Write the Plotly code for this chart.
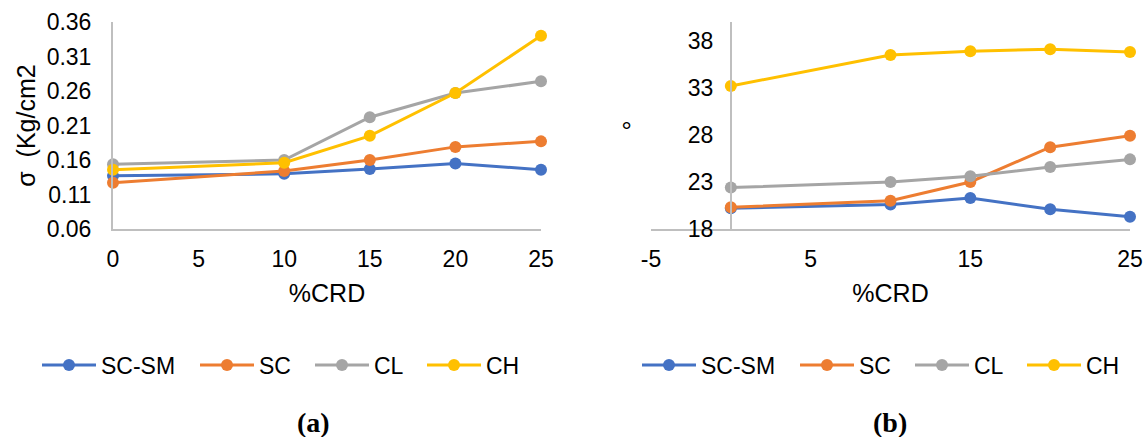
import plotly.graph_objects as go

W, H = 1147, 437

series = ["SC-SM", "SC", "CL", "CH"]
colors = ["#4472C4", "#ED7D31", "#A5A5A5", "#FFC000"]
crd = [0, 10, 15, 20, 25]

# (a) sigma (Kg/cm2)
sigma_scsm = [0.137, 0.140, 0.147, 0.155, 0.146]
sigma_sc = [0.127, 0.144, 0.160, 0.179, 0.187]
sigma_cl = [0.154, 0.160, 0.222, 0.257, 0.274]
sigma_ch = [0.146, 0.156, 0.195, 0.257, 0.340]

# (b) angle (degrees)
phi_scsm = [20.2, 20.6, 21.3, 20.1, 19.3]
phi_sc = [20.3, 21.0, 23.0, 26.7, 27.9]
phi_cl = [22.4, 23.0, 23.6, 24.6, 25.4]
phi_ch = [33.2, 36.5, 36.9, 37.1, 36.8]

left_vals = [sigma_scsm, sigma_sc, sigma_cl, sigma_ch]
right_vals = [phi_scsm, phi_sc, phi_cl, phi_ch]

left_yticks = [0.06, 0.11, 0.16, 0.21, 0.26, 0.31, 0.36]
left_xticks = [0, 5, 10, 15, 20, 25]
right_yticks = [18, 23, 28, 33, 38]
right_xticks = [-5, 5, 15, 25]
right_xticktext = ["-5", "5", "15", "25"]

FONT = "Liberation Sans, Arial, sans-serif"
SERIF = "Liberation Serif, Times New Roman, serif"
AXC = "#BFBFBF"


def px_x(p):
    return p / W


def px_y(p):
    return 1 - p / H


# legend text start positions (px) for each entry
left_leg_text = [102, 260, 375, 487]
right_leg_text = [702, 860, 975, 1087]
LEG_ITEM_W = 54

fig = go.Figure()

for i, (name, col, vals) in enumerate(zip(series, colors, left_vals)):
    fig.add_trace(go.Scatter(
        x=crd, y=vals, name=name, mode="lines+markers",
        line=dict(color=col, width=3), marker=dict(color=col, size=12),
        xaxis="x", yaxis="y", legend="legend" if i == 0 else f"legend{i + 1}",
        cliponaxis=False))

for i, (name, col, vals) in enumerate(zip(series, colors, right_vals)):
    fig.add_trace(go.Scatter(
        x=crd, y=vals, name=name, mode="lines+markers",
        line=dict(color=col, width=3), marker=dict(color=col, size=12),
        xaxis="x2", yaxis="y2", legend=f"legend{i + 5}", cliponaxis=False))

ydom = [px_y(229), px_y(22)]
x1dom = [px_x(113), px_x(541)]
x2dom = [px_x(651), px_x(1130)]

tickfont = dict(family=FONT, size=23, color="#000000")
titlefont = dict(family=FONT, size=25, color="#000000")

layout = dict(
    width=W, height=H,
    margin=dict(l=0, r=0, t=0, b=0, autoexpand=False),
    paper_bgcolor="white", plot_bgcolor="white",
    font=dict(family=FONT, size=20, color="#000000"),
    showlegend=True,
    xaxis=dict(domain=x1dom, anchor="y", range=[0, 25], tickvals=left_xticks,
               showgrid=False, zeroline=False, showline=True, linecolor=AXC, linewidth=2,
               ticks="", ticklabelstandoff=8, tickfont=tickfont, automargin=False,
               title=dict(text="%CRD", font=titlefont, standoff=14)),
    yaxis=dict(domain=ydom, anchor="x", range=[0.06, 0.36], tickvals=left_yticks,
               tickformat=".2f",
               showgrid=False, zeroline=False, showline=True, linecolor=AXC, linewidth=2,
               ticks="", ticklabelstandoff=15, tickfont=tickfont, automargin=False,
               title=dict(text="σ  (Kg/cm2", font=titlefont, standoff=4)),
    xaxis2=dict(domain=x2dom, anchor="y2", range=[-5, 25], tickvals=right_xticks,
                ticktext=right_xticktext,
                showgrid=False, zeroline=False, showline=True, linecolor=AXC, linewidth=2,
                ticks="", ticklabelstandoff=8, tickfont=tickfont, automargin=False,
                title=dict(text="%CRD", font=titlefont, standoff=14)),
    yaxis2=dict(domain=ydom, anchor="free",
                position=x2dom[0] + (x2dom[1] - x2dom[0]) * 5 / 30,
                range=[18, 40], tickvals=right_yticks,
                showgrid=False, zeroline=False, showline=True, linecolor=AXC, linewidth=2,
                ticks="", ticklabelstandoff=12, tickfont=tickfont, automargin=False,
                title=dict(text="°", font=titlefont, standoff=38)),
)

legfont = dict(family=FONT, size=23, color="#000000")
for i in range(8):
    key = "legend" if i == 0 else f"legend{i + 1}"
    tx = left_leg_text[i] if i < 4 else right_leg_text[i - 4]
    layout[key] = dict(orientation="h", x=px_x(tx - LEG_ITEM_W - 11), y=px_y(365),
                       xanchor="left", yanchor="middle", font=legfont,
                       bgcolor="rgba(0,0,0,0)", borderwidth=0, itemwidth=LEG_ITEM_W)

fig.update_layout(**layout)

fig.add_annotation(text="<b>(a)</b>", x=px_x(313), y=px_y(422), xref="paper", yref="paper",
                   xanchor="center", yanchor="middle", showarrow=False,
                   font=dict(family=SERIF, size=28, color="#000000"))
fig.add_annotation(text="<b>(b)</b>", x=px_x(890), y=px_y(422), xref="paper", yref="paper",
                   xanchor="center", yanchor="middle", showarrow=False,
                   font=dict(family=SERIF, size=28, color="#000000"))

fig.write_html("out.html", config={"displayModeBar": False},
               post_script="document.body.style.margin='0px';")
